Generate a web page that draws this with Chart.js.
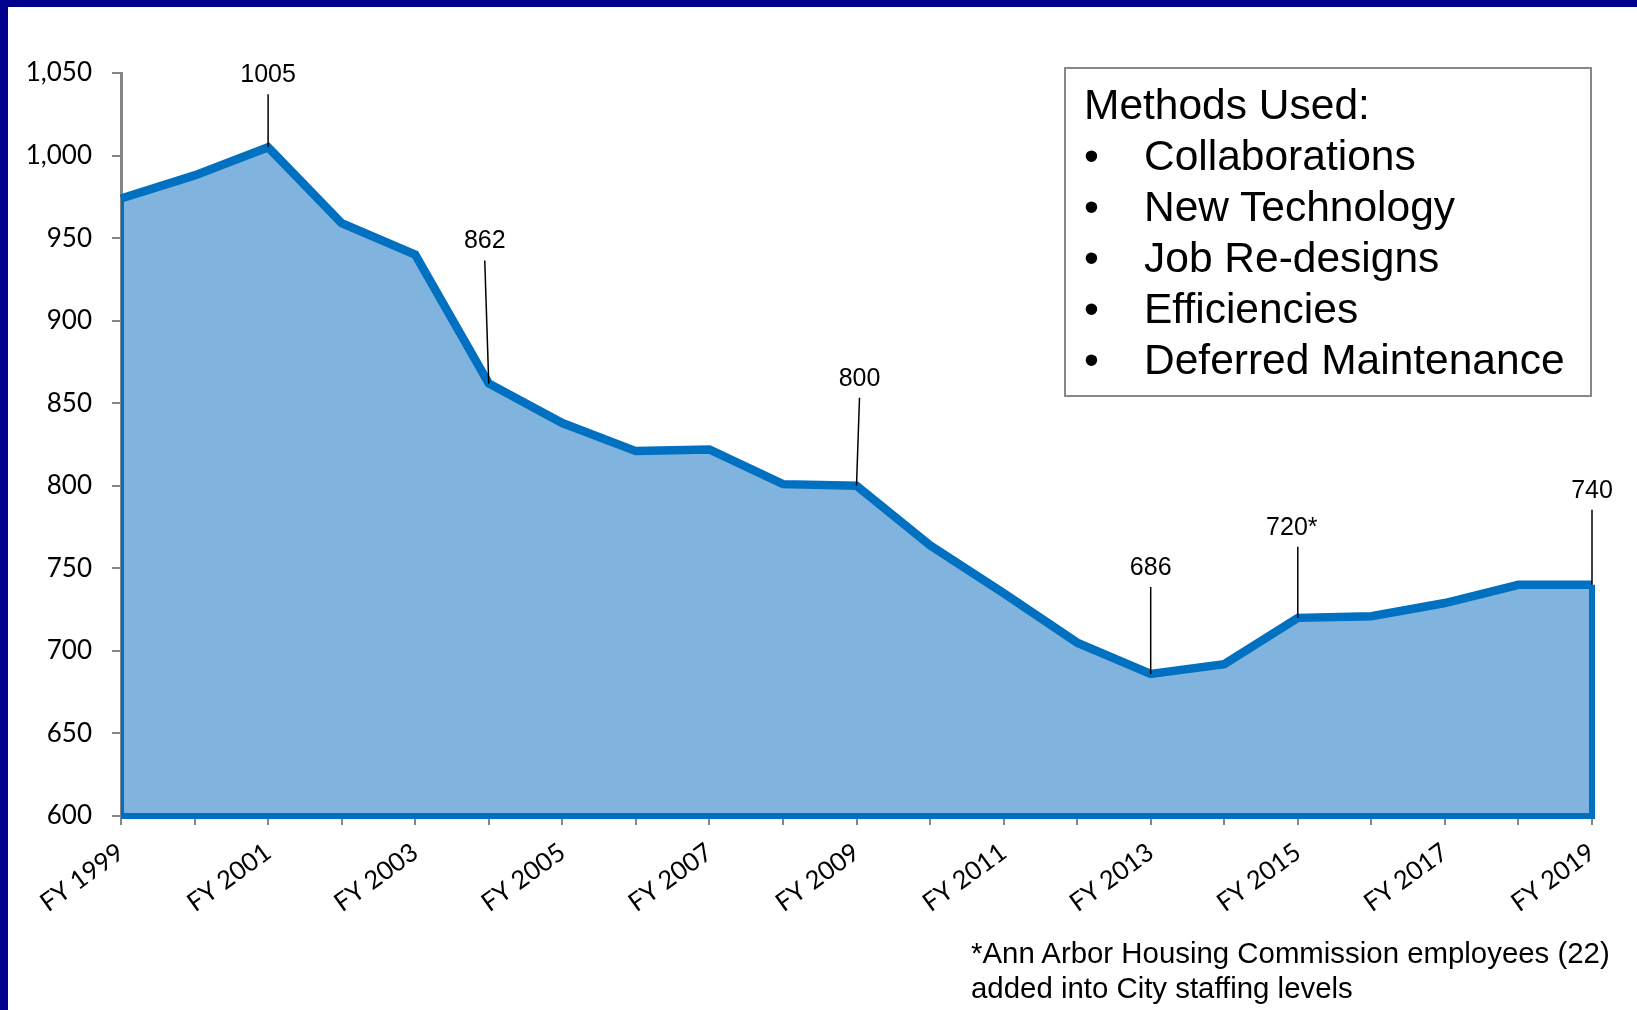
<!DOCTYPE html>
<html>
<head>
<meta charset="utf-8">
<script src="https://cdn.jsdelivr.net/npm/chart.js@4.4.0/dist/chart.umd.min.js"></script>
<style>
  html, body { margin: 0; padding: 0; background: #fff; }
  #marco { position: relative; width: 1637px; height: 1010px; overflow: hidden; background: #fff; }
  #grafico { position: absolute; left: 0; top: 0; }
  .barra { position: absolute; background: #00008e; }
  #metodos {
    position: absolute; left: 1064px; top: 67px; width: 528px; height: 330px;
    box-sizing: border-box; border: 2px solid #878787; padding: 10px 0 0 18px;
    font-family: "Liberation Sans", Arial, sans-serif; font-size: 42.5px; line-height: 51px; color: #000;
  }
  #metodos .punto { display: inline-block; width: 60px; }
  #nota {
    position: absolute; left: 971px; top: 935px;
    font-family: "Liberation Sans", Arial, sans-serif; font-size: 29.4px; line-height: 35px; color: #000;
  }
</style>
</head>
<body>
<div id="marco">
  <canvas id="grafico" width="1637" height="1010"></canvas>
  <div class="barra" style="left:0;top:0;width:1637px;height:7px;"></div>
  <div class="barra" style="left:0;top:0;width:8px;height:1010px;"></div>
  <div id="metodos"></div>
  <div id="nota">*Ann Arbor Housing Commission employees (22)<br>added into City staffing levels</div>
</div>
<script>
/* Datos del gráfico */
var anios = ["FY 1999", "FY 2000", "FY 2001", "FY 2002", "FY 2003", "FY 2004", "FY 2005",
             "FY 2006", "FY 2007", "FY 2008", "FY 2009", "FY 2010", "FY 2011", "FY 2012",
             "FY 2013", "FY 2014", "FY 2015", "FY 2016", "FY 2017", "FY 2018", "FY 2019"];
var empleados = [974, 988, 1005, 959, 940, 862, 838, 821, 822, 801, 800,
                 764, 735, 705, 686, 692, 720, 721, 729, 740, 740];

// puntos con rótulo
var rotuloIdx = [2, 5, 10, 14, 16, 20];
var rotuloTexto = ["1005", "862", "800", "686", "720*", "740"];

var ejeMin = 600;
var ejeMax = 1050;
var ejePaso = 50;

var metodos = ["Collaborations", "New Technology", "Job Re-designs", "Efficiencies", "Deferred Maintenance"];

//------------------------------------------------------------------
/* Cuadro de métodos */
var cuadro = document.getElementById("metodos");
var html = "<div>Methods Used:</div>";
metodos.forEach(m => {
  html += '<div><span class="punto">&bull;</span>' + m + '</div>';
});
cuadro.innerHTML = html;

//------------------------------------------------------------------
/* Borde del área (lados y base) */
var bordeArea = {
  id: "bordeArea",
  afterDatasetsDraw(chart, args, opts) {
    var pts = chart.getDatasetMeta(0).data;
    var ctx = chart.ctx;
    var area = chart.chartArea;
    var yBase = chart.scales.y.getPixelForValue(chart.scales.y.min);
    var ult = pts[pts.length - 1];
    ctx.save();
    ctx.beginPath();
    ctx.rect(area.left, 0, chart.width - area.left, chart.height);
    ctx.clip();
    ctx.strokeStyle = opts.color;
    ctx.lineWidth = opts.ancho;
    ctx.lineJoin = "miter";
    ctx.beginPath();
    ctx.moveTo(pts[0].x, pts[0].y);
    ctx.lineTo(pts[0].x, yBase);
    ctx.lineTo(ult.x, yBase);
    ctx.lineTo(ult.x, ult.y);
    ctx.stroke();
    ctx.restore();
  }
};

/* Rótulos con línea guía */
var rotulos = {
  id: "rotulos",
  afterDatasetsDraw(chart, args, opts) {
    var pts = chart.getDatasetMeta(0).data;
    var ctx = chart.ctx;
    ctx.save();
    ctx.font = opts.fuente;
    ctx.fillStyle = "#000";
    ctx.strokeStyle = "#000";
    ctx.lineWidth = 1.5;
    ctx.textAlign = "center";
    ctx.textBaseline = "middle";
    rotuloIdx.forEach((idx, k) => {
      var p = pts[idx];
      var d = opts.desplaz[k];
      var lx = p.x + d[0];
      var ly = p.y + d[1];
      ctx.fillText(rotuloTexto[k], lx, ly);
      ctx.beginPath();
      ctx.moveTo(lx + d[2], ly + 19);
      ctx.lineTo(p.x, p.y);
      ctx.stroke();
    });
    ctx.restore();
  }
};

//------------------------------------------------------------------
/* Gráfico de área */
var ctx = document.getElementById("grafico").getContext("2d");

new Chart(ctx, {
  type: "line",
  data: {
    labels: anios,
    datasets: [{
      data: empleados,
      borderColor: "#0070c0",
      borderWidth: 8.5,
      borderJoinStyle: "miter",
      backgroundColor: "#80b3de",
      fill: "start",
      pointRadius: 0,
      tension: 0
    }]
  },
  plugins: [bordeArea, rotulos],
  options: {
    responsive: false,
    animation: false,
    layout: {
      padding: { left: 0, top: 73, right: 45, bottom: 0 }
    },
    plugins: {
      legend: { display: false },
      tooltip: { enabled: false },
      bordeArea: { color: "#0070c0", ancho: 6 },
      rotulos: {
        fuente: '25px "Liberation Sans", Arial, sans-serif',
        desplaz: [[0, -72, 0], [-4, -142, 0], [3, -107, 0], [0, -106, 0], [-6, -90, 6], [0, -94, 0]]
      }
    },
    scales: {
      x: {
        offset: false,
        z: 1,
        border: { display: true, color: "#868686", width: 3 },
        grid: {
          display: true,
          drawOnChartArea: false,
          drawTicks: true,
          tickLength: 9,
          color: "#868686",
          lineWidth: 2
        },
        ticks: {
          autoSkip: false,
          minRotation: 36,
          maxRotation: 36,
          padding: 12,
          color: "#000",
          font: { family: "Lato", size: 25.5 },
          callback: function(v, i) {
            return i % 2 === 0 ? this.getLabelForValue(v) : "";
          }
        },
        afterFit: function(s) { s.height = 194; }
      },
      y: {
        min: ejeMin,
        max: ejeMax,
        z: 1,
        border: { display: true, color: "#868686", width: 3 },
        grid: {
          display: true,
          drawOnChartArea: false,
          drawTicks: true,
          tickLength: 9,
          color: "#868686",
          lineWidth: 2
        },
        ticks: {
          stepSize: ejePaso,
          padding: 20,
          color: "#000",
          font: { family: "Lato", size: 26 }
        },
        afterFit: function(s) { s.width = 121; }
      }
    }
  }
});
</script>
</body>
</html>
